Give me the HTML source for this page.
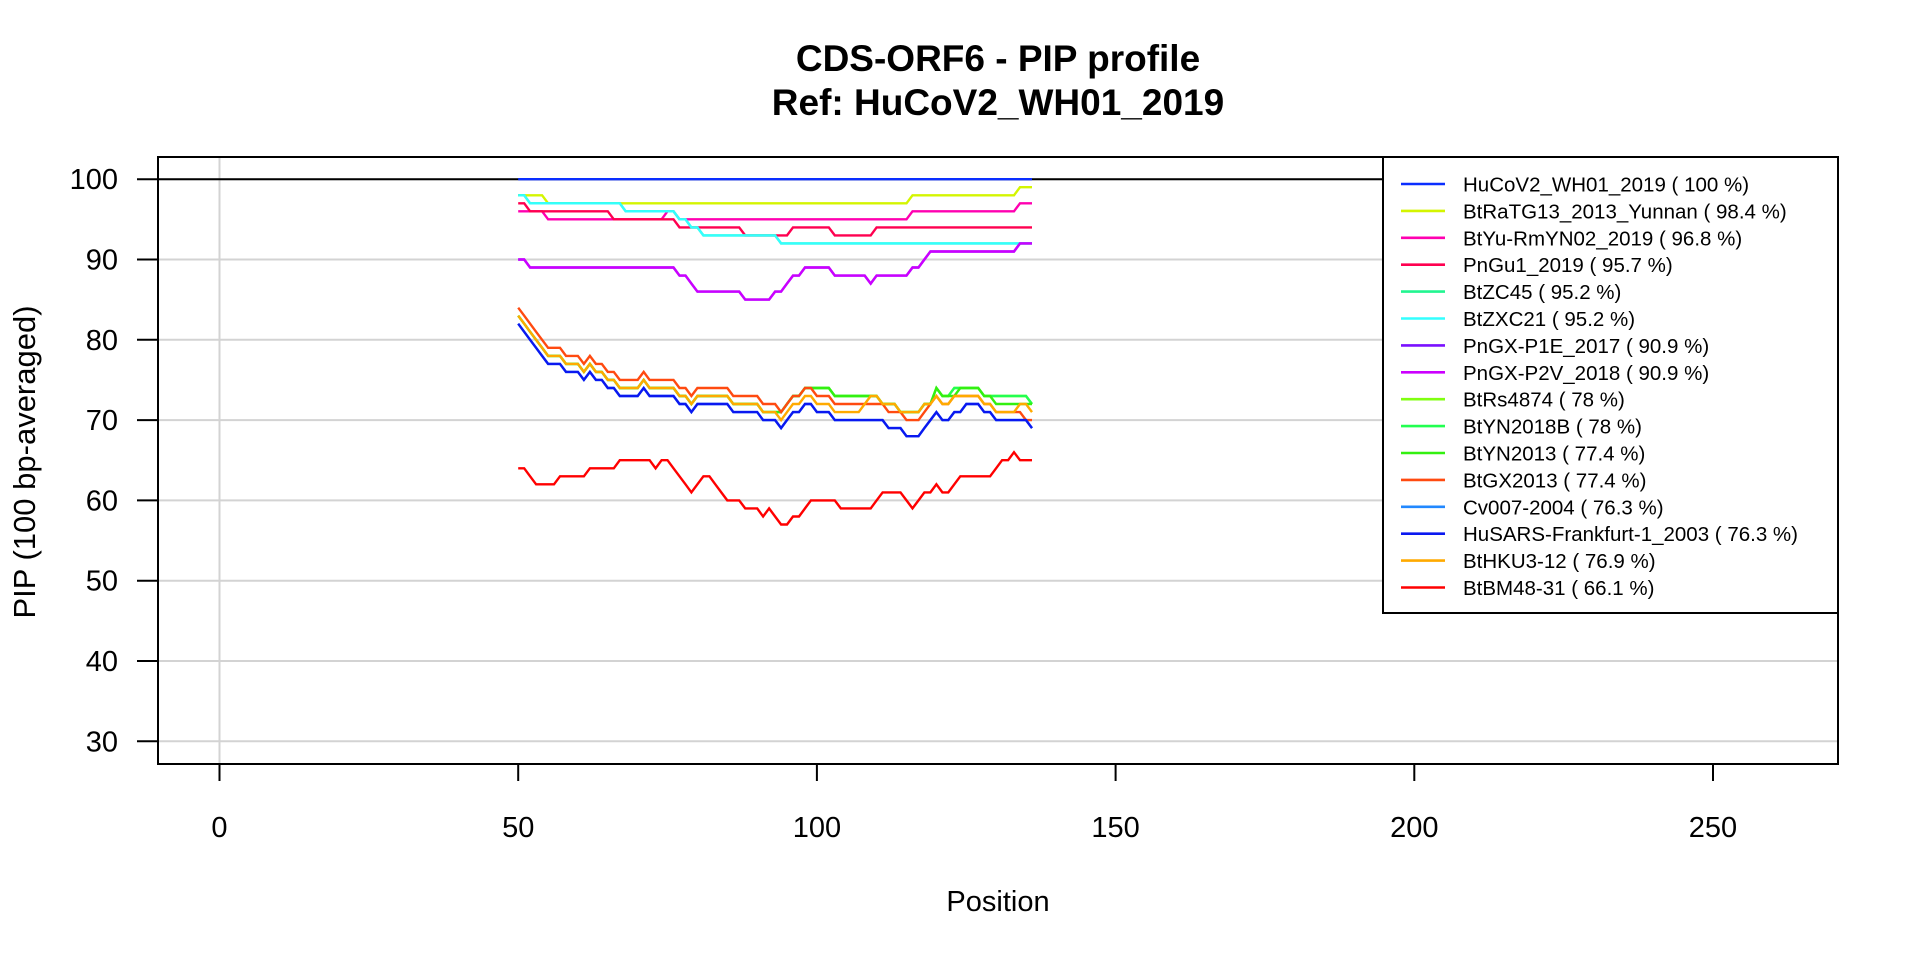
<!DOCTYPE html>
<html><head><meta charset="utf-8"><style>
html,body{margin:0;padding:0;background:#fff;}
svg text{font-family:"Liberation Sans",Arial,sans-serif;}
</style></head><body>
<svg id="chart" width="1920" height="960" viewBox="0 0 1920 960" xmlns="http://www.w3.org/2000/svg">
<rect width="1920" height="960" fill="#fff"/>
<text x="998" y="71" text-anchor="middle" font-size="37" font-weight="bold">CDS-ORF6 - PIP profile</text>
<text x="998" y="115" text-anchor="middle" font-size="37" font-weight="bold">Ref: HuCoV2_WH01_2019</text>
<g id="grid"></g><g id="series"></g><g id="axes"></g><g id="legend"></g>
</svg>
<script>
const xTicks=[0,50,100,150,200,250];
const yTicks=[30,40,50,60,70,80,90,100];
const seriesNames=["HuCoV2_WH01_2019 ( 100 %)","BtRaTG13_2013_Yunnan ( 98.4 %)","BtYu-RmYN02_2019 ( 96.8 %)","PnGu1_2019 ( 95.7 %)","BtZC45 ( 95.2 %)","BtZXC21 ( 95.2 %)","PnGX-P1E_2017 ( 90.9 %)","PnGX-P2V_2018 ( 90.9 %)","BtRs4874 ( 78 %)","BtYN2018B ( 78 %)","BtYN2013 ( 77.4 %)","BtGX2013 ( 77.4 %)","Cv007-2004 ( 76.3 %)","HuSARS-Frankfurt-1_2003 ( 76.3 %)","BtHKU3-12 ( 76.9 %)","BtBM48-31 ( 66.1 %)"];
const seriesColors=["#0a2eff","#d4f500","#ff00b0","#ff0050","#22f590","#33ffff","#7a10ff","#cc00ff","#80ff10","#22ff50","#33f010","#ff4a10","#2288ff","#0a18f0","#ffaa00","#ff0000"];
const xStart=50;
function rep(v,n){return Array(n).fill(v);}
const sHuCoV2=rep(100,87);
const sRaTG13=[].concat(rep(98,5),rep(97,61),rep(98,18),rep(99,3));
const sYu=[].concat(rep(96,5),rep(95,20),rep(96,2),rep(95,39),rep(96,18),rep(97,3));
const sPnGu1=[].concat(rep(97,2),rep(96,14),rep(95,11),rep(94,11),rep(93,8),rep(94,7),rep(93,7),rep(94,27));
const sZXC21=[].concat(rep(98,2),rep(97,16),rep(96,9),rep(95,2),rep(94,2),rep(93,13),rep(92,43));
const sZC45=sZXC21.slice();
const sP2V=[].concat(rep(90,2),rep(89,25),rep(88,2),[87],rep(86,8),rep(85,5),rep(86,2),[87],rep(88,2),rep(89,5),rep(88,6),[87],rep(88,6),rep(89,2),[90],rep(91,15),rep(92,3));
const sP1E=sP2V.slice();
const sGX=[84,83,82,81,80,79,79,79,78,78,78,77,78,77,77,76,76,75,75,75,75,76,75,75,75,75,75,74,74,73,74,74,74,74,74,74,73,73,73,73,73,72,72,72,71,
72,73,73,74,74,73,73,73,72,72,72,72,72,72,72,72,72,71,71,71,70,70,70,71,72,73,72,72,73,73,73,73,73,72,72,71,71,71,71,71,70,70];
const sHKU3=[83,82,81,80,79,78,78,78,77,77,77,76,77,76,76,75,75,74,74,74,74,75,74,74,74,74,74,73,73,72,73,73,73,73,73,73,72,72,72,72,72,71,71,71,70,
71,72,72,73,73,72,72,72,71,71,71,71,71,72,73,73,72,72,72,71,71,71,71,72,72,73,72,72,73,73,73,73,73,72,72,71,71,71,71,72,72,71];
const sSARS=[82,81,80,79,78,77,77,77,76,76,76,75,76,75,75,74,74,73,73,73,73,74,73,73,73,73,73,72,72,71,72,72,72,72,72,72,71,71,71,71,71,70,70,70,69,
70,71,71,72,72,71,71,71,70,70,70,70,70,70,70,70,70,69,69,69,68,68,68,69,70,71,70,70,71,71,72,72,72,71,71,70,70,70,70,70,70,69];
const sCv007=sSARS.slice();
const sRs4874=[83,82,81,80,79,78,78,78,77,77,77,76,77,76,76,75,75,74,74,74,74,75,74,74,74,74,74,73,73,72,73,73,73,73,73,73,72,72,72,72,72,71,71,71,71,
72,73,73,74,74,74,74,74,73,73,73,73,73,73,73,73,72,72,72,71,71,71,71,72,72,74,73,73,74,74,74,74,74,73,73,73,73,73,73,73,73,72];
const sYN2018B=sRs4874.slice();
const sYN2013=[83,82,81,80,79,78,78,78,77,77,77,76,77,76,76,75,75,74,74,74,74,75,74,74,74,74,74,73,73,72,73,73,73,73,73,73,72,72,72,72,72,71,71,71,71,
72,73,73,74,74,74,74,74,73,73,73,73,73,73,73,73,72,72,72,71,71,71,71,72,72,74,73,73,73,74,74,74,74,73,73,72,72,72,72,72,72,72];
const sBM48=[64,64,63,62,62,62,62,63,63,63,63,63,64,64,64,64,64,65,65,65,65,65,65,64,65,65,64,63,62,61,62,63,63,62,61,60,60,60,59,59,59,58,59,58,57,57,58,58,59,60,60,60,60,60,59,59,59,59,59,59,60,61,61,61,61,60,59,60,61,61,62,61,61,62,63,63,63,63,63,63,64,65,65,66,65,65,65];
const allSeries=[sHuCoV2,sRaTG13,sYu,sPnGu1,sZC45,sZXC21,sP1E,sP2V,sRs4874,sYN2018B,sYN2013,sGX,sCv007,sSARS,sHKU3,sBM48];

const NS="http://www.w3.org/2000/svg";
const L=158,R=1838,T=157,B=764;
function xs(v){return 219.5+v*(1713-219.5)/250;}
function ys(v){return 179.2+(100-v)*8.03;}
function mk(tag,attrs,parent){const e=document.createElementNS(NS,tag);for(const k in attrs)e.setAttribute(k,attrs[k]);parent.appendChild(e);return e;}
const grid=document.getElementById('grid'),axes=document.getElementById('axes'),ser=document.getElementById('series'),leg=document.getElementById('legend');
yTicks.forEach(t=>{
  const g=mk('line',{x1:L,x2:R,y1:ys(t),y2:ys(t),stroke:'#d3d3d3','stroke-width':2},grid);
  
  
  const tk=mk('line',{x1:137,x2:L,y1:ys(t),y2:ys(t),stroke:'#000','stroke-width':2},axes);
  
  
  const tx=mk('text',{x:118,y:ys(t)+10,'text-anchor':'end','font-size':29},axes);
  tx.textContent=t;
  
  
});
const v0=mk('line',{x1:xs(0),x2:xs(0),y1:T,y2:B,stroke:'#d3d3d3','stroke-width':2},grid);


const ref=mk('line',{x1:L,x2:R,y1:ys(100),y2:ys(100),stroke:'#000','stroke-width':2},grid);


xTicks.forEach(t=>{
  const tk=mk('line',{x1:xs(t),x2:xs(t),y1:B,y2:781,stroke:'#000','stroke-width':2},axes);
  
  
  const tx=mk('text',{x:xs(t),y:837,'text-anchor':'middle','font-size':29},axes);
  tx.textContent=t;
  
  
});
const box=mk('rect',{x:L,y:T,width:R-L,height:B-T,fill:'none',stroke:'#000','stroke-width':2},axes);


const xt=mk('text',{x:998,y:911,'text-anchor':'middle','font-size':29},axes);
xt.textContent='Position';


const yt=mk('text',{x:0,y:0,'text-anchor':'middle','font-size':31,transform:'translate(35,462) rotate(-90)'},axes);
yt.textContent='PIP (100 bp-averaged)';


allSeries.forEach((s,i)=>{
  const pts=s.map((v,j)=>xs(xStart+j).toFixed(1)+','+ys(v).toFixed(1)).join(' ');
  const p=mk('polyline',{points:pts,fill:'none',stroke:seriesColors[i],'stroke-width':2.4,'stroke-linejoin':'miter'},ser);
  
  
});
const lb=mk('rect',{x:1383,y:T,width:R-1383,height:613-T,fill:'#fff',stroke:'#000','stroke-width':2},leg);


seriesNames.forEach((n,i)=>{
  const y=184+i*26.9;
  const ln=mk('line',{x1:1401,x2:1445,y1:y,y2:y,stroke:seriesColors[i],'stroke-width':2.6},leg);
  
  
  const tx=mk('text',{x:1463,y:y+7.5,'font-size':20.5},leg);
  tx.textContent=n;
  
  
});
</script>
</body></html>
